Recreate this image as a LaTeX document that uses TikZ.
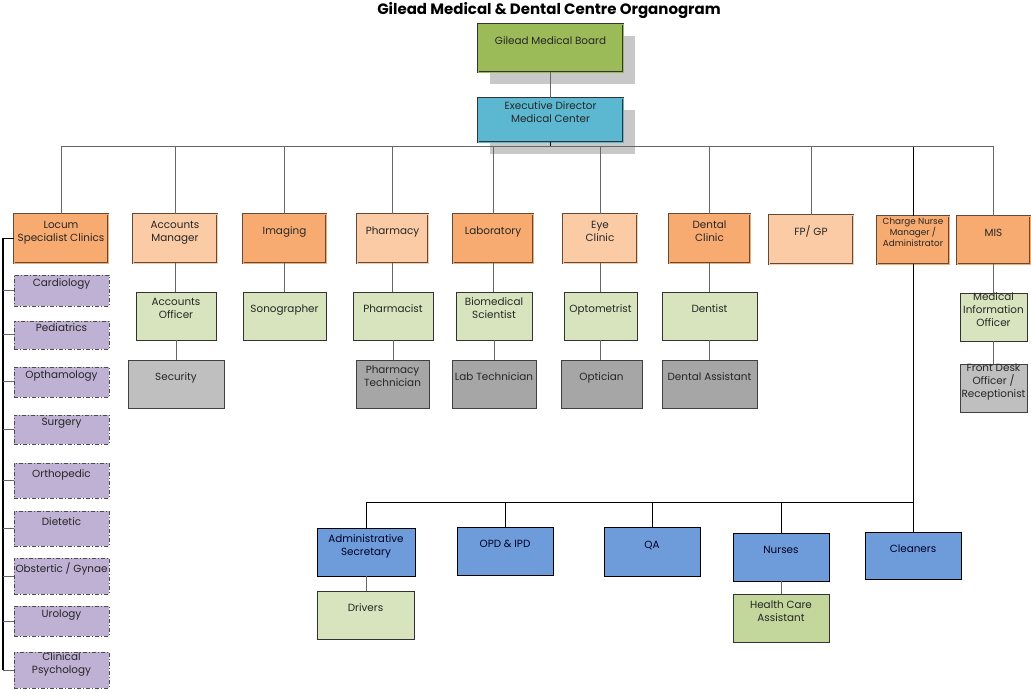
\documentclass[tikz,border=0pt]{standalone}
\usepackage{fontspec}
\setmainfont{Poppins}
\usetikzlibrary{shadows}
\definecolor{boardgreen}{RGB}{155,187,89}
\definecolor{execblue}{RGB}{92,183,208}
\definecolor{orangedark}{RGB}{248,171,112}
\definecolor{orangelight}{RGB}{251,203,166}
\definecolor{staffgreen}{RGB}{215,228,189}
\definecolor{caregreen}{RGB}{195,214,155}
\definecolor{techgray}{RGB}{166,166,166}
\definecolor{supgray}{RGB}{191,191,191}
\definecolor{clinicpurple}{RGB}{190,177,212}
\definecolor{nurseblue}{RGB}{110,156,218}
\definecolor{headbrown}{RGB}{96,74,58}
\definecolor{shadowgray}{RGB}{200,200,200}

\begin{document}
\begin{tikzpicture}[x=1pt,y=-1pt,font=\fontsize{10.4}{13}\selectfont,
  unit/.style={draw, rectangle, inner sep=1pt, align=center, text=black!85},
  oneline/.style={text height=1pt, text depth=8pt},
  twoline/.style={text height=14pt, text depth=8pt},
  threeline/.style={text height=27pt, text depth=8pt},
  top/.style={unit, line width=0.8pt, double distance=0.8pt,
    drop shadow={shadow xshift=12pt, shadow yshift=-12pt, fill=shadowgray, opacity=1}},
  headdark/.style={unit, draw=headbrown, fill=orangedark, double=orangedark, line width=0.8pt, double distance=0.8pt},
  headlight/.style={unit, draw=headbrown, fill=orangelight, double=orangelight, line width=0.8pt, double distance=0.8pt},
  staff/.style={unit, draw=black!80, fill=staffgreen, line width=0.7pt},
  tech/.style={unit, draw=black!75, fill=techgray, line width=0.7pt},
  support/.style={unit, draw=black!75, fill=supgray, line width=0.7pt},
  clinic/.style={unit, draw=black!70, fill=clinicpurple, line width=0.8pt, dash pattern=on 4pt off 2pt on 1pt off 2pt},
  nursing/.style={unit, draw=black, fill=nurseblue, line width=0.7pt, text=blue!15!black},
  link/.style={draw=black!60, line width=1pt}]
\useasboundingbox (0,0) rectangle (1031,692);

\node[font=\fontsize{15}{17}\selectfont\bfseries] (title) at (549,11) {Gilead Medical \& Dental Centre Organogram};

% board and director
\node[top, oneline, draw=black!80, fill=boardgreen, double=boardgreen, minimum width=145pt, minimum height=48pt] (board) at (550.5,48) {Gilead Medical Board};
\node[top, twoline, draw=black!80, fill=execblue, double=execblue, minimum width=145pt, minimum height=44pt] (exec) at (550.5,120) {Executive Director\\Medical Center};

% departments
\node[headdark, twoline, minimum width=94pt, minimum height=49pt] (locum) at (61,238.5) {Locum\\Specialist Clinics};
\node[headlight, twoline, minimum width=84pt, minimum height=49pt] (accm) at (175,238.5) {Accounts\\Manager};
\node[headdark, oneline, minimum width=83pt, minimum height=49pt] (imaging) at (284.5,238.5) {Imaging};
\node[headlight, oneline, minimum width=71pt, minimum height=49pt] (pharmacy) at (392.5,238.5) {Pharmacy};
\node[headdark, oneline, minimum width=80pt, minimum height=49pt] (lab) at (493,238.5) {Laboratory};
\node[headlight, twoline, minimum width=74pt, minimum height=49pt] (eye) at (600,238.5) {Eye\\Clinic};
\node[headdark, twoline, minimum width=81pt, minimum height=49pt] (dental) at (709.5,238.5) {Dental\\Clinic};
\node[headlight, oneline, minimum width=84pt, minimum height=49pt] (fpgp) at (811,239.5) {FP/ GP};
\node[headdark, font=\fontsize{8.8}{11}\selectfont, text height=22pt, text depth=8pt, minimum width=72pt, minimum height=48pt] (charge) at (913,240) {Charge Nurse\\Manager /\\Administrator};
\node[headdark, oneline, minimum width=73pt, minimum height=48pt] (mis) at (993.5,240) {MIS};

% staff
\node[staff, twoline, minimum width=80pt, minimum height=48pt] (accoff) at (176,316) {Accounts\\Officer};
\node[staff, oneline, minimum width=83pt, minimum height=48pt] (sono) at (284.5,316) {Sonographer};
\node[staff, oneline, minimum width=80pt, minimum height=48pt] (pharmacist) at (393,316) {Pharmacist};
\node[staff, twoline, minimum width=76pt, minimum height=48pt] (biomed) at (494,316) {Biomedical\\Scientist};
\node[staff, oneline, minimum width=73pt, minimum height=48pt] (opto) at (600.5,316) {Optometrist};
\node[staff, oneline, minimum width=95pt, minimum height=48pt] (dentist) at (709.5,316) {Dentist};
\node[staff, threeline, minimum width=67pt, minimum height=48pt] (medinfo) at (993.5,317) {Medical\\Information\\Officer};

\node[support, oneline, minimum width=96pt, minimum height=48pt] (security) at (176,384) {Security};
\node[tech, twoline, minimum width=73pt, minimum height=48pt] (phtech) at (392.5,384) {Pharmacy\\Technician};
\node[tech, oneline, minimum width=84pt, minimum height=48pt] (labtech) at (494,384) {Lab Technician};
\node[tech, oneline, minimum width=81pt, minimum height=48pt] (optician) at (601.5,384.5) {Optician};
\node[tech, oneline, minimum width=95pt, minimum height=48pt] (dentassist) at (709.5,384) {Dental Assistant};
\node[support, threeline, minimum width=67pt, minimum height=48pt] (frontdesk) at (993.5,388) {Front Desk\\Officer /\\Receptionist};

% specialist clinics
\node[clinic, oneline, minimum width=95pt, minimum height=31pt] (cardio) at (61.5,290.5) {Cardiology};
\node[clinic, oneline, minimum width=95pt, minimum height=28pt] (pedia) at (61.5,335) {Pediatrics};
\node[clinic, oneline, minimum width=95pt, minimum height=30pt] (optha) at (61.5,382) {Opthamology};
\node[clinic, oneline, minimum width=95pt, minimum height=29pt] (surgery) at (61.5,429.5) {Surgery};
\node[clinic, oneline, minimum width=95pt, minimum height=35pt] (ortho) at (61.5,480.5) {Orthopedic};
\node[clinic, oneline, minimum width=95pt, minimum height=35pt] (diet) at (61.5,528.5) {Dietetic};
\node[clinic, oneline, minimum width=95pt, minimum height=36pt] (obst) at (61.5,576) {Obstertic / Gynae};
\node[clinic, oneline, minimum width=95pt, minimum height=30pt] (uro) at (61.5,621) {Urology};
\node[clinic, twoline, minimum width=95pt, minimum height=36pt] (clinpsy) at (61.5,670) {Clinical\\Psychology};

% nursing side
\node[nursing, twoline, minimum width=98pt, minimum height=48pt] (admin) at (366,552) {Administrative\\Secretary};
\node[nursing, oneline, minimum width=96pt, minimum height=48pt] (opd) at (505,551) {OPD \& IPD};
\node[nursing, oneline, minimum width=96pt, minimum height=49pt] (qa) at (652,551.5) {QA};
\node[nursing, oneline, minimum width=96pt, minimum height=48pt] (nurses) at (781,557) {Nurses};
\node[nursing, oneline, minimum width=96pt, minimum height=47pt] (cleaners) at (913,555.5) {Cleaners};
\node[staff, oneline, minimum width=97pt, minimum height=48pt] (drivers) at (365.5,615) {Drivers};
\node[unit, twoline, draw=black!80, fill=caregreen, line width=0.7pt, minimum width=96pt, minimum height=48pt] (hca) at (781,618) {Health Care\\Assistant};

% connectors
\coordinate (bus) at (0,147);
\coordinate (bus2) at (0,502);
\coordinate (spine) at (3,0);
\draw[link] (board.south) -- (exec.north);
\draw[line width=1pt] (exec.south) -- (exec.south |- bus);
\draw[link] (locum.north |- bus) -- (mis.north |- bus);
\foreach \d in {locum,accm,imaging,pharmacy,lab,eye,dental,fpgp,mis}
  \draw[link] (\d.north) -- (\d.north |- bus);
\draw[line width=1pt] (charge.north) -- (charge.north |- bus);
\foreach \p/\c in {accm/accoff,accoff/security,imaging/sono,pharmacy/pharmacist,pharmacist/phtech,lab/biomed,biomed/labtech,eye/opto,opto/optician,dental/dentist,dentist/dentassist,mis/medinfo,medinfo/frontdesk,admin/drivers,nurses/hca}
  \draw[link] (\p.south) -- (\p.south |- \c.north);
\draw[line width=1pt] (charge.south) -- (charge.south |- bus2) -- (admin.north |- bus2);
\foreach \b in {admin,opd,qa,nurses,cleaners}
  \draw[line width=0.8pt] (\b.north) -- (\b.north |- bus2);
\draw[line width=1.6pt] (locum.west) -- (locum.west -| spine) -- (clinpsy.west -| spine);
\foreach \s in {cardio,pedia,optha,surgery,ortho,diet,obst,uro,clinpsy}
  \draw[link] (\s.west) -- (\s.west -| spine);
\end{tikzpicture}
\end{document}
